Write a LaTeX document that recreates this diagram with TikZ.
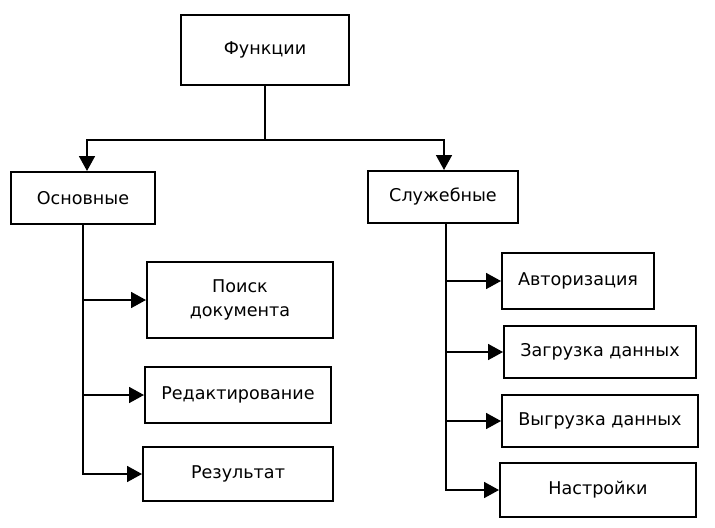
\documentclass[tikz,border=0pt]{standalone}
\usepackage{fontspec}
\setmainfont{DejaVu Sans}
\usetikzlibrary{arrows.meta}
\usetikzlibrary{positioning}

\tikzset{
  box/.style={draw, line width=0.04cm, align=center, inner sep=2pt,
    font=\fontsize{10}{13.6}\selectfont},
  arr/.style={line width=0.04cm, -{Triangle[length=8.5pt,width=9pt]}},
  ln/.style={line width=0.04cm}
}

\begin{document}
\begin{tikzpicture}[x=0.02cm, y=-0.02cm]
\useasboundingbox (0,0) rectangle (715,527);

%top
\node[box, minimum width=33.6mm, minimum height=14mm] (fun) at (265,50) {Функции};
\node[box, minimum width=28.8mm, minimum height=10.4mm] (osn) at (83,198) {Основные};
\node[box, minimum width=30mm, minimum height=10.4mm] (sluzh) at (443,197) {Служебные};

%left
\node[box, minimum width=37.2mm, minimum height=15.2mm] (poisk) at (240,300) {Поиск\\документа};
\node[box, minimum width=37.2mm, minimum height=11.2mm] (red) at (238,395) {Редактирование};
\node[box, minimum width=38mm, minimum height=10.8mm] (res) at (238,474) {Результат};

%right
\node[box, minimum width=30.4mm, minimum height=11.2mm] (avt) at (578,281) {Авторизация};
\node[box, minimum width=38.4mm, minimum height=10.4mm] (zagr) at (600,352) {Загрузка данных};
\node[box, minimum width=39.2mm, minimum height=10.4mm] (vygr) at (600,421) {Выгрузка данных};
\node[box, minimum width=39.2mm, minimum height=10.8mm] (nastr) at (598,490) {Настройки};

\coordinate (split) at (265,140);
\coordinate (ltrunk) at (osn.south);
\coordinate (rtrunk) at ([xshift=0.06cm]sluzh.south);
\draw[ln] (fun.south) -- (split);
\draw[arr] (split) -| ([xshift=0.08cm]osn.north);
\draw[arr] (split) -| ([xshift=0.02cm]sluzh.north);

\foreach \b in {poisk,red,res}
  \draw[arr] (ltrunk) |- (\b.west);
\foreach \b in {avt,zagr,vygr,nastr}
  \draw[arr] (rtrunk) |- (\b.west);
\end{tikzpicture}
\end{document}
